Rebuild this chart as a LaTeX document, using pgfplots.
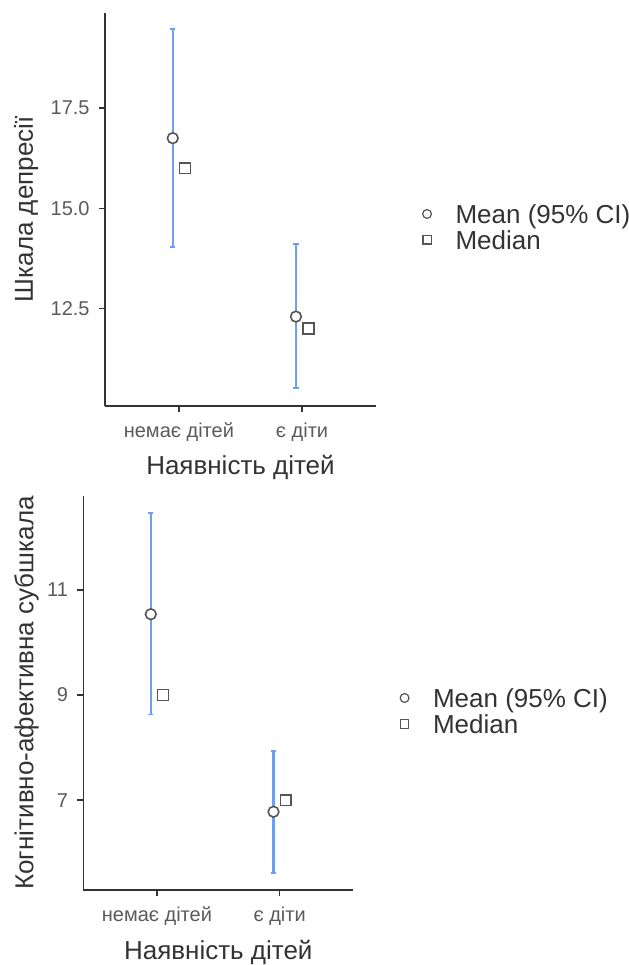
\documentclass[border=0pt]{standalone}
\usepackage{pgfplots}
\pgfplotsset{compat=1.18}
\usepackage{fontspec}
\setmainfont{Liberation Sans}
\definecolor{errblue}{RGB}{110,158,236}
\definecolor{axgray}{RGB}{51,51,51}
\definecolor{tickgray}{RGB}{90,90,90}
\definecolor{markgray}{RGB}{85,85,85}
\pgfplotsset{
  panel/.style={
    scale only axis, anchor=south west,
    axis lines=left, axis line style={-, axgray, line width=1.1pt},
    xmin=0.4, xmax=2.6,
    xtick={1,2}, xticklabels={немає дітей, є діти},
    tick align=outside, major tick length=4.5pt,
    every tick/.style={axgray, line width=1.1pt},
    ticklabel style={font=\fontsize{15}{18}\selectfont, text=tickgray},
    xticklabel style={yshift=-4.5pt},
    yticklabel style={xshift=-3.5pt},
    /pgf/number format/assume math mode=true,
    xlabel={Наявність дітей},
    xlabel style={font=\fontsize{19.5}{23}\selectfont, text=axgray, at={(axis description cs:0.5,0)}, anchor=base, inner sep=0pt, yshift=-51.75pt},
    ylabel style={font=\fontsize{19.5}{23}\selectfont, text=axgray, anchor=base, inner sep=0pt},
    clip=false,
    legend style={draw=none, fill=none, inner sep=0pt, outer sep=0pt, anchor=north west,
      font=\fontsize{19.5}{23}\selectfont, text=axgray, row sep=5.5pt, column sep=17.6pt,
      nodes={inner sep=0pt, text height=14pt, text depth=0pt}},
    legend cell align=left,
  },
  errplot/.style={only marks, mark=none, forget plot,
    error bars/.cd, y dir=both, y explicit,
    error bar style={errblue, line width=1.8pt},
    error mark options={errblue, line width=1.4pt, mark size=2pt, rotate=90}},
  meanplot/.style={only marks, mark=*, mark size=4pt, forget plot,
    mark options={draw=markgray, fill=white, line width=1.2pt}},
  medplot/.style={only marks, mark=square*, mark size=4.1pt, forget plot,
    mark options={draw=markgray, fill=white, line width=1.2pt}},
}
\begin{document}
\begin{tikzpicture}
\useasboundingbox (0pt,0pt) rectangle (471.75pt,723.75pt);
% ---------- top panel ----------
\begin{axis}[panel,
  at={(78.75pt,419.25pt)}, width=203.25pt, height=295pt,
  ymin=10.07, ymax=19.88, ytick={12.5,15,17.5},
  yticklabel style={/pgf/number format/.cd, fixed, fixed zerofill, precision=1},
  ylabel={Шкала депресії},
  ylabel style={at={(axis description cs:-0.2657,0.5)}},
  legend style={at={(axis description cs:1.170,0.512)}},
]
\addplot[errplot] coordinates {
  (0.95,16.75) += (0,2.72) -= (0,2.71)
  (1.95,12.30) += (0,1.81) -= (0,1.79)
};
\addplot[meanplot] coordinates {(0.95,16.75) (1.95,12.30)};
\addplot[medplot] coordinates {(1.05,16.0) (2.05,12.0)};
\addlegendimage{legend image code/.code={\draw[markgray, line width=0.9pt, fill=white] (0pt,0pt) circle (3.3pt);}}
\addlegendentry{Mean (95\% CI)}
\addlegendimage{legend image code/.code={\draw[markgray, line width=0.9pt, fill=white] (-3.1pt,-3.1pt) rectangle (3.1pt,3.1pt);}}
\addlegendentry{Median}
\end{axis}
% ---------- bottom panel ----------
\begin{axis}[panel,
  at={(62.475pt,56.25pt)}, width=202.5pt, height=295.5pt,
  ymin=5.29, ymax=12.79, ytick={7,9,11},
  ylabel={Когнітивно-афективна субшкала},
  ylabel style={at={(axis description cs:-0.185,0.5)}},
  legend style={at={(axis description cs:1.1715,0.511)}},
]
\addplot[errplot] coordinates {
  (0.95,10.54) += (0,1.92) -= (0,1.91)
  (1.95,6.78) += (0,1.15) -= (0,1.16)
};
\addplot[meanplot] coordinates {(0.95,10.54) (1.95,6.78)};
\addplot[medplot] coordinates {(1.05,9.0) (2.05,7.0)};
\addlegendimage{legend image code/.code={\draw[markgray, line width=0.9pt, fill=white] (0pt,0pt) circle (3.3pt);}}
\addlegendentry{Mean (95\% CI)}
\addlegendimage{legend image code/.code={\draw[markgray, line width=0.9pt, fill=white] (-3.1pt,-3.1pt) rectangle (3.1pt,3.1pt);}}
\addlegendentry{Median}
\end{axis}
\end{tikzpicture}
\end{document}
